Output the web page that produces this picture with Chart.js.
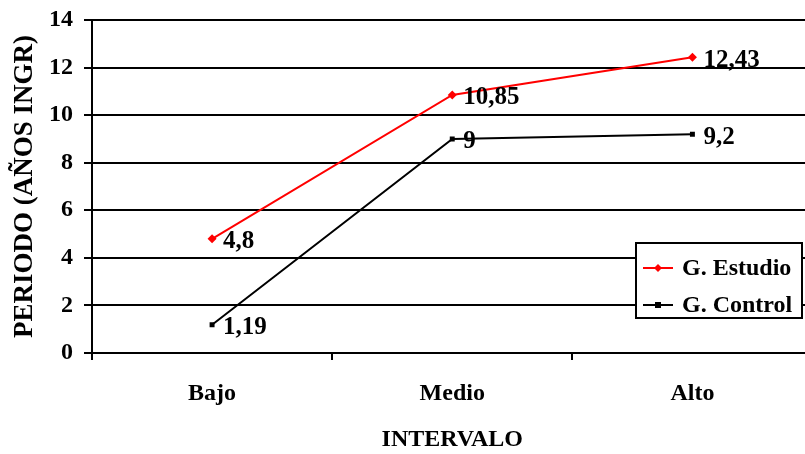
<!DOCTYPE html>
<html>
<head>
<meta charset="utf-8">
<script src="https://cdn.jsdelivr.net/npm/chart.js@4/dist/chart.umd.min.js"></script>
<style>
  html, body { margin: 0; padding: 0; background: #fff; overflow: hidden; }
  #wrap { width: 805px; height: 454px; overflow: hidden; position: relative; }
  #c { position: absolute; left: 0; top: 0; }
</style>
</head>
<body>
<div id="wrap"><canvas id="c" width="817" height="454"></canvas></div>
<script>
const categories = ['Bajo', 'Medio', 'Alto'];
const estudioValues = [4.8, 10.85, 12.43];
const controlValues = [1.19, 9, 9.2];
const seriesNames = ['G. Estudio', 'G. Control'];
const yTicks = [0, 2, 4, 6, 8, 10, 12, 14];

const FONT = '"Liberation Serif", "Times New Roman", serif';

// Value labels beside each point, with comma decimals
const valueLabels = {
  id: 'valueLabels',
  afterDatasetsDraw(chart) {
    const ctx = chart.ctx;
    ctx.save();
    ctx.font = 'bold 25px ' + FONT;
    ctx.fillStyle = '#000';
    ctx.textAlign = 'left';
    ctx.textBaseline = 'middle';
    chart.data.datasets.forEach((ds, i) => {
      chart.getDatasetMeta(i).data.forEach((pt, j) => {
        const txt = String(ds.data[j]).replace('.', ',');
        ctx.fillText(txt, pt.x + 11, pt.y + 3);
      });
    });
    ctx.restore();
  }
};

// Boxed legend in the lower right of the plot
const boxLegend = {
  id: 'boxLegend',
  afterDraw(chart) {
    const ctx = chart.ctx;
    const x = 636, y = 243, w = 166, h = 75;
    ctx.save();
    ctx.fillStyle = '#fff';
    ctx.fillRect(x, y, w, h);
    ctx.strokeStyle = '#000';
    ctx.lineWidth = 2;
    ctx.strokeRect(x, y, w, h);
    const rows = [268, 305];
    chart.data.datasets.forEach((ds, i) => {
      const cy = rows[i];
      ctx.strokeStyle = ds.borderColor;
      ctx.lineWidth = 2;
      ctx.beginPath();
      ctx.moveTo(643, cy);
      ctx.lineTo(673, cy);
      ctx.stroke();
      ctx.fillStyle = ds.borderColor;
      if (ds.pointStyle === 'rectRot') {
        ctx.beginPath();
        ctx.moveTo(658, cy - 4);
        ctx.lineTo(662, cy);
        ctx.lineTo(658, cy + 4);
        ctx.lineTo(654, cy);
        ctx.closePath();
        ctx.fill();
      } else {
        ctx.fillRect(655, cy - 3, 6, 6);
      }
      ctx.fillStyle = '#000';
      ctx.font = 'bold 24px ' + FONT;
      ctx.textAlign = 'left';
      ctx.textBaseline = 'middle';
      ctx.fillText(ds.label, 682, cy + 1);
    });
    ctx.restore();
  }
};

new Chart(document.getElementById('c'), {
  type: 'line',
  data: {
    labels: categories,
    datasets: [
      {
        label: seriesNames[0],
        data: estudioValues,
        borderColor: '#ff0000',
        backgroundColor: '#ff0000',
        borderWidth: 2,
        pointStyle: 'rectRot',
        pointRadius: 4.5,
        pointBorderWidth: 0,
        tension: 0
      },
      {
        label: seriesNames[1],
        data: controlValues,
        borderColor: '#000000',
        backgroundColor: '#000000',
        borderWidth: 2,
        pointStyle: 'rect',
        pointRadius: 3.5,
        pointBorderWidth: 0,
        tension: 0
      }
    ]
  },
  options: {
    responsive: false,
    animation: false,
    devicePixelRatio: 1,
    layout: { padding: { top: 20, right: 0, bottom: 0, left: 0 } },
    plugins: {
      legend: { display: false },
      tooltip: { enabled: false }
    },
    scales: {
      x: {
        type: 'category',
        offset: true,
        grid: {
          offset: true,
          drawOnChartArea: false,
          drawTicks: true,
          tickLength: 7,
          color: '#000',
          lineWidth: 2
        },
        border: { display: true, color: '#000', width: 2 },
        ticks: {
          color: '#000',
          font: { family: FONT, size: 24, weight: 'bold' },
          padding: 19,
          maxRotation: 0
        },
        title: {
          display: true,
          text: 'INTERVALO',
          color: '#000',
          font: { family: FONT, size: 24, weight: 'bold' },
          padding: { top: 0, bottom: 0 }
        },
        afterFit(scale) {
          scale.height = 101;
          scale.paddingLeft = 0;
          scale.paddingRight = 0;
        }
      },
      y: {
        min: 0,
        max: 14,
        afterBuildTicks(scale) { scale.ticks = yTicks.map(v => ({ value: v })); },
        grid: {
          color: '#000',
          lineWidth: 2,
          drawTicks: true,
          tickLength: 8
        },
        border: { display: true, color: '#000', width: 2 },
        ticks: {
          color: '#000',
          font: { family: FONT, size: 24, weight: 'bold' },
          padding: 11
        },
        title: {
          display: true,
          text: 'PERIODO (AÑOS INGR)',
          color: '#000',
          font: { family: FONT, size: 27, weight: 'bold' },
          padding: { top: 9, bottom: 0 }
        },
        afterFit(scale) {
          scale.width = 92;
          scale.paddingTop = 0;
          scale.paddingBottom = 0;
        }
      }
    }
  },
  plugins: [valueLabels, boxLegend]
});
</script>
</body>
</html>
